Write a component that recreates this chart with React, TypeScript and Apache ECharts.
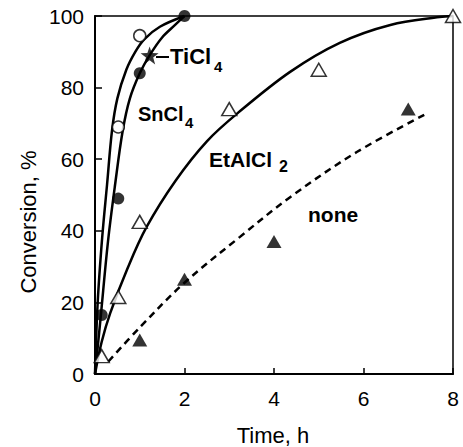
import React, { useEffect, useRef } from "react";
import * as echarts from "echarts";

// x tick values (time, h) and y tick values (conversion, %)
const xTicks = [0, 2, 4, 6, 8];
const yTicks = [0, 20, 40, 60, 80, 100];

// fitted curves [time h, conversion %]
const curveOuter: number[][] = [
  [0, 0], [0.06, 20], [0.16, 38], [0.27, 53], [0.38, 68], [0.5, 77],
  [0.7, 85], [0.9, 90], [1.1, 93.5], [1.45, 97], [2, 100],
];
const curveInner: number[][] = [
  [0, 0], [0.12, 15], [0.29, 37], [0.45, 53], [0.62, 68], [0.78, 77],
  [1.0, 84], [1.22, 89], [1.5, 94], [1.79, 97.5], [2, 100],
];
const curveEtAlCl2: number[][] = [
  [0, 0], [0.15, 9], [0.34, 17], [0.71, 29], [1.15, 41], [1.8, 54],
  [2.5, 65], [3.2, 73], [4.36, 84.4], [5.47, 92.5], [6.6, 97.5], [7.7, 99.7], [8, 100],
];
const curveNone: number[][] = [
  [0.3, 3.5], [1, 13], [2, 25.5], [3.24, 38.3], [4.36, 49.4], [5.85, 62], [7.45, 73],
];

// measured points
const openCircles: number[][] = [[0.52, 69], [1.0, 94.5]];
const filledCircles: number[][] = [[0.15, 16.5], [0.52, 49], [1.0, 84], [2.0, 100]];
const starPoints: number[][] = [[1.22, 89]];
const openTriangles: number[][] = [[0.15, 5], [0.52, 21.5], [1.0, 42.5], [3.0, 74], [5.0, 85], [8.0, 100]];
const filledTriangles: number[][] = [[1.0, 9.5], [2.0, 26.5], [4.0, 37], [7.0, 74]];

const FONT = '"Liberation Sans", Arial, Helvetica, sans-serif';
const STAR =
  "path://M0,-10 L2.35,-3.24 L9.51,-3.09 L3.8,1.24 L5.88,8.09 L0,4 L-5.88,8.09 L-3.8,1.24 L-9.51,-3.09 L-2.35,-3.24 Z";

export default function App() {
  const ref = useRef<HTMLDivElement>(null);
  useEffect(() => {
    if (!ref.current) return;
    const chart = echarts.init(ref.current, undefined, { renderer: "svg" });
    const lineBase = {
      type: "line" as const,
      showSymbol: false,
      symbol: "none",
      smooth: 0.35,
      clip: false,
      z: 2,
    };
    chart.setOption({
      animation: false,
      backgroundColor: "#ffffff",
      grid: {
        left: 95,
        right: 10,
        top: 16,
        bottom: 73,
        show: true,
        borderColor: "#000",
        borderWidth: 1.5,
        backgroundColor: "transparent",
      },
      xAxis: {
        type: "value",
        min: 0,
        max: 8,
        interval: 2,
        axisLine: { show: true, lineStyle: { color: "#000", width: 2 } },
        axisTick: { show: true, inside: true, length: 6, lineStyle: { color: "#000", width: 1.5 } },
        axisLabel: {
          color: "#000",
          fontSize: 21,
          fontFamily: FONT,
          margin: 14,
          formatter: (v: number) => (xTicks.includes(v) ? String(v) : ""),
        },
        splitLine: { show: false },
      },
      yAxis: {
        type: "value",
        min: 0,
        max: 100,
        interval: 20,
        axisLine: { show: true, lineStyle: { color: "#000", width: 2 } },
        axisTick: { show: true, inside: true, length: 7, lineStyle: { color: "#000", width: 1.5 } },
        axisLabel: {
          color: "#000",
          fontSize: 21,
          fontFamily: FONT,
          margin: 11,
          formatter: (v: number) => (yTicks.includes(v) ? String(v) : ""),
        },
        splitLine: { show: false },
      },
      series: [
        { ...lineBase, name: "SnCl4 fit", data: curveOuter, lineStyle: { color: "#000", width: 2.5 } },
        { ...lineBase, name: "TiCl4 fit", data: curveInner, lineStyle: { color: "#000", width: 2.5 } },
        { ...lineBase, name: "EtAlCl2 fit", data: curveEtAlCl2, lineStyle: { color: "#000", width: 2.5 } },
        {
          ...lineBase,
          name: "none fit",
          data: curveNone,
          lineStyle: { color: "#000", width: 2.5, type: [7, 5] },
        },
        {
          type: "scatter",
          name: "SnCl4",
          data: openCircles,
          symbol: "circle",
          symbolSize: 12,
          itemStyle: { color: "#fff", borderColor: "#000", borderWidth: 1.5 },
          z: 5,
        },
        {
          type: "scatter",
          name: "TiCl4",
          data: filledCircles,
          symbol: "circle",
          symbolSize: 12,
          itemStyle: { color: "#000" },
          z: 5,
          clip: false,
        },
        {
          type: "scatter",
          name: "TiCl4 star",
          data: starPoints,
          symbol: STAR,
          symbolSize: 18,
          itemStyle: { color: "#000" },
          z: 5,
        },
        {
          type: "scatter",
          name: "EtAlCl2",
          data: openTriangles,
          symbol: "triangle",
          symbolSize: [15, 13],
          itemStyle: { color: "#fff", borderColor: "#000", borderWidth: 1.5 },
          z: 5,
          clip: false,
        },
        {
          type: "scatter",
          name: "none",
          data: filledTriangles,
          symbol: "triangle",
          symbolSize: [15, 13],
          itemStyle: { color: "#000" },
          z: 5,
        },
      ],
      graphic: [
        { type: "line", shape: { x1: 156, y1: 57, x2: 169, y2: 57 }, style: { stroke: "#000", lineWidth: 2 }, z: 10 },
        { type: "text", x: 170, y: 56, style: { text: "TiCl", font: `bold 22px ${FONT}`, fill: "#000", textVerticalAlign: "middle" }, z: 10 },
        { type: "text", x: 214, y: 66, style: { text: "4", font: `bold 15px ${FONT}`, fill: "#000", textVerticalAlign: "middle" }, z: 10 },
        { type: "text", x: 138, y: 114, style: { text: "SnCl", font: `bold 20px ${FONT}`, fill: "#000", textVerticalAlign: "middle" }, z: 10 },
        { type: "text", x: 185, y: 122, style: { text: "4", font: `bold 15px ${FONT}`, fill: "#000", textVerticalAlign: "middle" }, z: 10 },
        { type: "text", x: 209, y: 159, style: { text: "EtAlCl", font: `bold 21px ${FONT}`, fill: "#000", textVerticalAlign: "middle" }, z: 10 },
        { type: "text", x: 279, y: 166, style: { text: "2", font: `bold 16px ${FONT}`, fill: "#000", textVerticalAlign: "middle" }, z: 10 },
        { type: "text", x: 308, y: 214, style: { text: "none", font: `bold 21px ${FONT}`, fill: "#000", textVerticalAlign: "middle" }, z: 10 },
        { type: "text", x: 273, y: 435, style: { text: "Time, h", font: `22px ${FONT}`, fill: "#000", textAlign: "center", textVerticalAlign: "middle" } },
        {
          type: "text",
          x: 28,
          y: 222,
          rotation: Math.PI / 2,
          style: { text: "Conversion, %", font: `22px ${FONT}`, fill: "#000", textAlign: "center", textVerticalAlign: "middle" },
        },
      ],
    });
    return () => chart.dispose();
  }, []);
  return (
    <div
      ref={ref}
      style={{ position: "fixed", left: 0, top: 0, width: 463, height: 447, background: "#fff" }}
    />
  );
}
